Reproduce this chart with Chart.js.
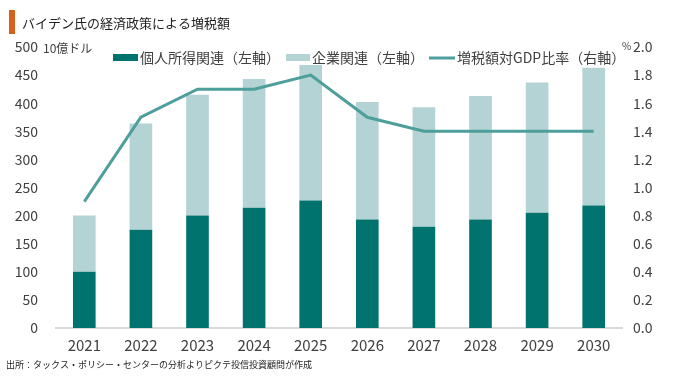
<!DOCTYPE html>
<html><head><meta charset="utf-8">
<script src="https://cdn.jsdelivr.net/npm/chart.js@4"></script>
<style>html,body{margin:0;padding:0;background:#fff}canvas{display:block}</style>
</head><body>
<canvas id="c" width="680" height="378"></canvas>
<script>
const categories = ['2021','2022','2023','2024','2025','2026','2027','2028','2029','2030'];
const individual = [100,175,200,214,227,193,180,193,205,218];
const corporate  = [100,189,215,229,241,209,213,220,232,245];
const gdpRatio   = [0.9,1.5,1.7,1.7,1.8,1.5,1.4,1.4,1.4,1.4];
const seriesNames = ['個人所得関連（左軸）','企業関連（左軸）','増税額対GDP比率（右軸）'];
const titleText = 'バイデン氏の経済政策による増税額';
const unitLeft = '10億ドル';
const unitRight = '%';
const sourceText = '出所：タックス・ポリシー・センターの分析よりピクテ投信投資顧問が作成';

const C_DARK = '#00736E', C_LIGHT = '#B4D3D5', C_LINE = '#4E9F9B';
const NUM_FONT = "'Noto Sans CJK JP', 'Noto Sans', sans-serif";
const JP_FONT = "'Noto Sans CJK JP', sans-serif";

const decor = {
  id: 'decor',
  afterDraw(chart) {
    const ctx = chart.ctx;
    ctx.save();
    ctx.fillStyle = '#D8601F';
    ctx.fillRect(9, 10, 6, 24);
    ctx.fillStyle = '#222';
    ctx.font = "13px " + JP_FONT;
    ctx.textBaseline = 'middle';
    ctx.textAlign = 'left';
    ctx.fillText(titleText, 22, 23);
    ctx.fillStyle = '#404040';
    ctx.font = "12px " + NUM_FONT;
    ctx.fillText(unitLeft, 43, 48);
    ctx.font = "10px " + NUM_FONT;
    ctx.fillText(unitRight, 622, 46);
    ctx.font = "14px " + JP_FONT;
    ctx.fillStyle = C_DARK; ctx.fillRect(113, 54, 25, 7);
    ctx.fillStyle = '#404040'; ctx.fillText(seriesNames[0], 140, 58);
    ctx.fillStyle = C_LIGHT; ctx.fillRect(286, 54, 24, 7);
    ctx.fillStyle = '#404040'; ctx.fillText(seriesNames[1], 312, 58);
    ctx.strokeStyle = C_LINE; ctx.lineWidth = 3;
    ctx.beginPath(); ctx.moveTo(429, 58); ctx.lineTo(455, 58); ctx.stroke();
    ctx.fillStyle = '#404040'; ctx.fillText(seriesNames[2], 457, 58);
    ctx.font = "9px " + JP_FONT;
    ctx.fillStyle = '#222';
    ctx.fillText(sourceText, 6, 365);
    ctx.restore();
  }
};

new Chart(document.getElementById('c'), {
  data: {
    labels: categories,
    datasets: [
      { type: 'line', label: seriesNames[2], data: gdpRatio, yAxisID: 'y2', borderColor: C_LINE,
        backgroundColor: C_LINE, borderWidth: 3, pointRadius: 0, tension: 0, order: 0 },
      { type: 'bar', label: seriesNames[0], data: individual, yAxisID: 'y', backgroundColor: C_DARK,
        stack: 's', barPercentage: 0.4, categoryPercentage: 1, order: 1 },
      { type: 'bar', label: seriesNames[1], data: corporate, yAxisID: 'y', backgroundColor: C_LIGHT,
        stack: 's', barPercentage: 0.4, categoryPercentage: 1, order: 1 }
    ]
  },
  options: {
    responsive: false,
    animation: false,
    layout: { padding: { top: 47, left: 0, right: 0, bottom: 0 } },
    plugins: { legend: { display: false }, tooltip: { enabled: false } },
    scales: {
      x: {
        stacked: true,
        grid: { display: false, drawTicks: false },
        border: { display: true, color: '#D9D9D9', width: 2 },
        ticks: { color: '#404040', font: { family: NUM_FONT, size: 15 }, padding: 8, maxRotation: 0 },
        afterFit(s) { s.height = 50; }
      },
      y: {
        position: 'left', stacked: true, min: 0, max: 500,
        grid: { display: false, drawTicks: false },
        border: { display: false },
        ticks: { stepSize: 50, color: '#404040', font: { family: NUM_FONT, size: 14 }, padding: 18 },
        afterFit(s) { s.width = 56; }
      },
      y2: {
        position: 'right', min: 0, max: 2.0,
        grid: { display: false, drawTicks: false },
        border: { display: false },
        ticks: { stepSize: 0.2, color: '#404040', font: { family: NUM_FONT, size: 14 }, padding: 11,
          callback: v => Number(v).toFixed(1) },
        afterFit(s) { s.width = 58; }
      }
    }
  },
  plugins: [decor]
});
</script>
</body></html>
